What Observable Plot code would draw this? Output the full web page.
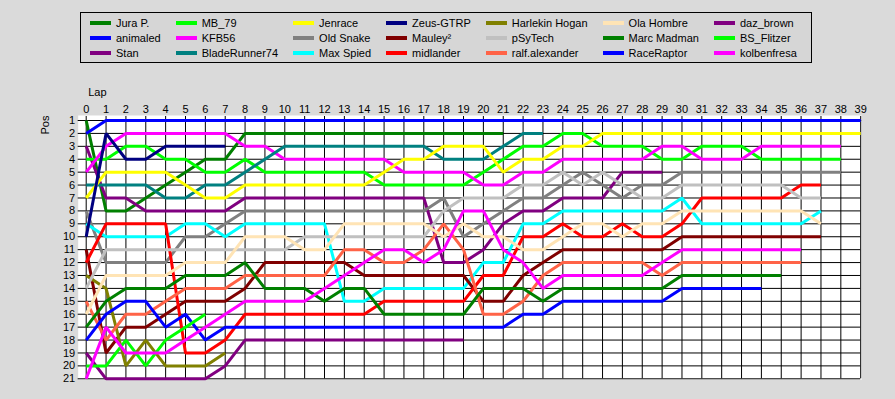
<!DOCTYPE html>
<html><head><meta charset="utf-8">
<script src="https://cdn.jsdelivr.net/npm/d3@7"></script>
<script src="https://cdn.jsdelivr.net/npm/@observablehq/plot@0.6"></script>
<style>
html,body{margin:0;padding:0}
body{width:895px;height:399px;overflow:hidden;position:relative;background:#dadada;font-family:"Liberation Sans",Arial,sans-serif}
#chart{position:absolute;left:0;top:0}
#legend{position:absolute;left:80px;top:12px;box-sizing:border-box;height:51px;border:1px solid #000;background:#d6d6d6;display:grid;grid-template-rows:repeat(3,15px);grid-auto-flow:column;column-gap:15px;padding:2px 14px 0 9px;align-content:start}
.item{display:flex;align-items:center;font-size:11px;color:#000;white-space:nowrap;height:15px}
.sw{width:21px;height:4px;margin-right:5px;flex:none}
</style></head>
<body>
<div id="chart"></div>
<div id="legend"></div>
<script>
const drivers = ["Jura P.","animaled","Stan","MB_79","KFB56","BladeRunner74","Jenrace","Old Snake","Max Spied","Zeus-GTRP","Mauley²","midlander","Harlekin Hogan","pSyTech","ralf.alexander","Ola Hombre","Marc Madman","RaceRaptor","daz_brown","BS_Flitzer","kolbenfresa"];
const colors = ["#008000","#0000ff","#800080","#00ff00","#ff00ff","#008080","#ffff00","#808080","#00ffff","#000080","#800000","#ff0000","#808000","#c0c0c0","#ff6347","#ffe4b5","#008000","#0000ff","#800080","#00ff00","#ff00ff"];
const lapTicks = d3.range(0, 40);
const posTicks = d3.range(1, 22);

// position per lap, starting at lap 0
const posJuraP = [1,8,8,7,6,5,4,4,2,2,2,2,2,2,2,2,2,2,2,2,2,2];
const posAnimaled = [2,1,1,1,1,1,1,1,1,1,1,1,1,1,1,1,1,1,1,1,1,1,1,1,1,1,1,1,1,1,1,1,1,1,1,1,1,1,1,1];
const posStan = [3,7,7,8,8,8,8,8,7,7,7,7,7,7,7,7,7,7,12,12,11,9,8,8,7,7,7,5,5,5];
const posMB79 = [4,4,3,3,4,4,5,5,4,5,5,5,5,5,5,6,6,6,6,6,5,4,3,3,2,2,3,3,3,4,4,3,3,3,4,4,4,4,4];
const posKFB56 = [5,3,2,2,2,2,2,2,3,3,4,4,4,4,4,4,5,5,5,5,6,6,5,5,4,4,4,4,4,3,3,4,4,4,3,3,3,3,3];
const posBladeRunner74 = [6,6,6,6,7,7,6,6,5,4,3,3,3,3,3,3,3,3,4,4,4,3,2,2];
const posJenrace = [7,5,5,5,5,6,7,7,6,6,6,6,6,6,6,5,4,4,3,3,3,5,4,4,3,3,2,2,2,2,2,2,2,2,2,2,2,2,2,2];
const posOldSnake = [8,12,12,12,12,10,10,9,8,8,8,8,8,8,8,8,8,8,7,10,9,8,7,7,6,5,6,7,6,6,5,5,5,5,5,5,5,5,5];
const posMaxSpied = [9,10,10,10,10,9,9,10,9,9,9,9,9,15,15,14,14,14,14,14,12,12,9,9,8,8,8,8,8,8,7,9,9,9,9,9,9,8];
const posZeusGTRP = [10,2,4,4,3,3,3,3];
const posMauley = [11,19,17,17,16,15,15,15,14,12,12,12,12,12,13,13,13,13,13,13,15,15,13,12,11,11,11,11,11,11,10,10,10,10,10,10,10,10];
const posMidlander = [12,9,9,9,9,19,19,18,16,16,16,16,16,16,16,15,15,15,15,15,13,13,10,10,9,10,10,9,10,10,9,7,7,7,7,7,6,6];
const posHarlekinHogan = [13,14,20,18,20,20,20,19];
const posPSyTech = [14,11,11,11,11,11,11,11,11,11,11,10,10,10,10,10,10,10,8,7,7,7,6,6,5,6,5,6,7,7,6,6,6,6,6,6,7,7];
const posRalfAlexander = [15,18,16,16,15,14,14,14,13,13,13,13,13,11,11,12,12,11,9,11,16,16,15,13,12,12,12,12,12,13,12,12,12,12,12,12,12];
const posOlaHombre = [16,13,13,13,13,12,12,12,10,10,10,11,11,9,9,9,9,9,10,9,10,10,11,11,10,9,9,10,9,9,8,8,8,8,8,8,8,9];
const posMarcMadman = [17,15,14,14,14,13,13,13,12,14,14,14,15,14,14,16,16,16,16,16,14,14,14,15,14,14,14,14,14,14,13,13,13,13,13,13];
const posRaceRaptor = [18,16,15,15,17,16,18,17,17,17,17,17,17,17,17,17,17,17,17,17,17,17,16,16,15,15,15,15,15,15,14,14,14,14,14];
const posDazBrown = [19,21,21,21,21,21,21,20,18,18,18,18,18,18,18,18,18,18,18,18];
const posBSFlitzer = [20,20,18,20,18,17,16];
const posKolbenfresa = [21,17,19,19,19,18,17,16,15,15,15,15,14,13,12,11,11,12,11,8,8,11,12,14,13,13,13,13,13,12,11,11,11,11,11,11,11];

const series = [posJuraP,posAnimaled,posStan,posMB79,posKFB56,posBladeRunner74,posJenrace,posOldSnake,posMaxSpied,posZeusGTRP,posMauley,posMidlander,posHarlekinHogan,posPSyTech,posRalfAlexander,posOlaHombre,posMarcMadman,posRaceRaptor,posDazBrown,posBSFlitzer,posKolbenfresa];

const data = drivers.flatMap((driver, i) => series[i].map((pos, lap) => ({driver, lap, pos})));

const plot = Plot.plot({
  width: 895,
  height: 399,
  marginLeft: 85.7,
  marginRight: 34.8,
  marginTop: 120,
  marginBottom: 20.7,
  style: {background: "transparent", fontFamily: "Liberation Sans, Arial, sans-serif", fontSize: "11px", color: "#000"},
  x: {domain: [d3.min(lapTicks), d3.max(lapTicks)]},
  y: {domain: [d3.max(posTicks), d3.min(posTicks)]},
  color: {domain: drivers, range: colors},
  marks: [
    Plot.frame({fill: "white", stroke: "none", insetLeft: -8, insetTop: -5, insetRight: -1, insetBottom: -1}),
    Plot.ruleX(lapTicks, {y1: d3.min(posTicks), y2: d3.max(posTicks), stroke: "#000", strokeWidth: 1}),
    Plot.ruleY(posTicks, {x1: d3.min(lapTicks), x2: d3.max(lapTicks), stroke: "#000", strokeWidth: 1}),
    Plot.axisX({anchor: "top", ticks: lapTicks, tickSize: 5, tickPadding: 3, tickFormat: d => String(d), label: null, fontSize: 11}),
    Plot.axisY({anchor: "left", ticks: posTicks, tickSize: 8, tickPadding: 3, tickFormat: d => String(d), label: null, fontSize: 11}),
    Plot.text(["Lap"], {frameAnchor: "top-left", dx: 2, dy: -32, textAnchor: "start", fontSize: 11}),
    Plot.text(["Pos"], {frameAnchor: "top-left", dx: -45, dy: 14, rotate: -90, fontSize: 11}),
    Plot.line(data, {x: "lap", y: "pos", z: "driver", stroke: "driver", strokeWidth: 3, strokeLinejoin: "miter", strokeLinecap: "butt"})
  ]
});
document.getElementById("chart").appendChild(plot);

const legend = d3.select("#legend");
drivers.forEach((d, i) => {
  const it = legend.append("div").attr("class", "item");
  it.append("div").attr("class", "sw").style("background", colors[i]);
  it.append("span").text(d);
});
</script>
</body></html>
